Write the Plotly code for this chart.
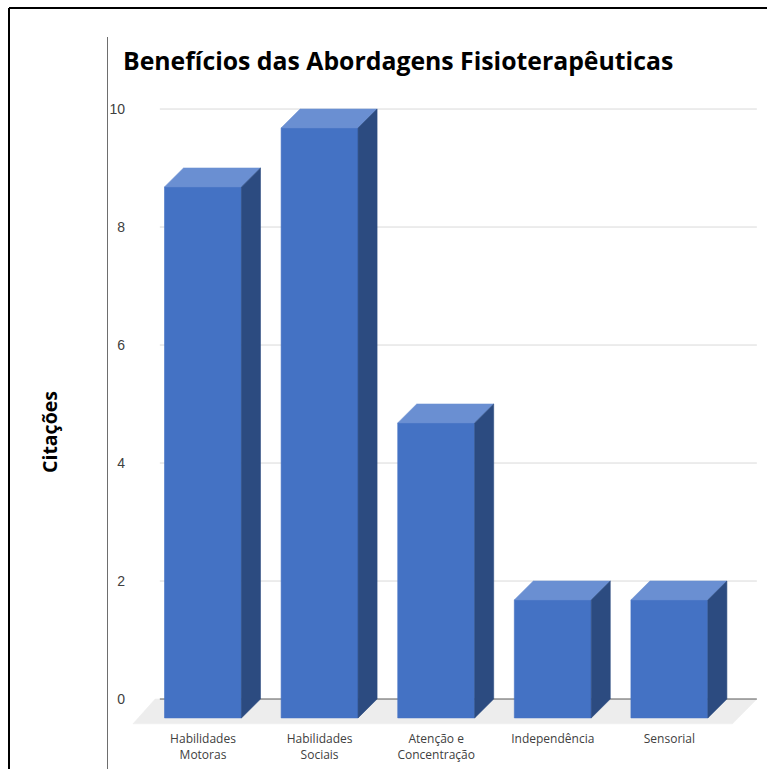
import plotly.graph_objects as go

# ---- data ----
categories = ["Habilidades<br>Motoras", "Habilidades<br>Sociais", "Atenção e<br>Concentração",
              "Independência", "Sensorial"]
values = [9, 10, 5, 2, 2]
y_tick_values = [0, 2, 4, 6, 8, 10]
title_text = "Benefícios das Abordagens Fisioterapêuticas"
y_title = "Citações"

# ---- layout geometry (pixels) ----
WIDTH, HEIGHT = 767, 769
ML, MR, MT, MB = 130, 7, 100, 39
PW = WIDTH - ML - MR
PH = HEIGHT - MT - MB
X_RANGE = [-0.626, 4.777]
Y_RANGE = [-0.525, 10.153]

# 3D look
W = 0.66     # bar width (category units)
DX = 0.163   # depth offset in x
DY = 0.32    # depth offset in y (value units)
FRONT = "#4472C4"
TOP = "#6A8FD2"
SIDE = "#2C4B80"

fig = go.Figure()


def poly(xs, ys, color):
    fig.add_trace(go.Scatter(
        x=xs + [xs[0]], y=ys + [ys[0]], fill="toself", fillcolor=color,
        mode="lines", line=dict(width=0.6, color=color),
        hoverinfo="skip", showlegend=False))


def hline(y, x0, x1, color):
    fig.add_trace(go.Scatter(x=[x0, x1], y=[y, y], mode="lines",
                             line=dict(width=1, color=color),
                             hoverinfo="skip", showlegend=False))


# floor
poly([-0.41, 4.75, 4.54, -0.60], [0, 0, -0.42, -0.42], "#EDEDED")

# gridlines (back wall)
for t in y_tick_values:
    hline(t, -0.37, 4.75, "#595959" if t == 0 else "#D9D9D9")

# bars
for i, v in enumerate(values):
    xl, xr = i - W / 2, i + W / 2
    poly([xl, xr, xr, xl], [-DY, -DY, v - DY, v - DY], FRONT)
    poly([xl, xr, xr + DX, xl + DX], [v - DY, v - DY, v, v], TOP)
    poly([xr, xr + DX, xr + DX, xr], [-DY, 0, v, v - DY], SIDE)


def px_x(p):
    return (p - ML) / PW


def px_y(p):
    return (HEIGHT - MB - p) / PH


shapes = [
    # outer frame (left and top)
    dict(type="line", xref="paper", yref="paper", x0=px_x(9), x1=px_x(9), y0=px_y(8), y1=px_y(769),
         line=dict(color="black", width=2)),
    dict(type="line", xref="paper", yref="paper", x0=px_x(9), x1=px_x(767), y0=px_y(8), y1=px_y(8),
         line=dict(color="black", width=2)),
    # inner vertical line
    dict(type="line", xref="paper", yref="paper", x0=px_x(107.5), x1=px_x(107.5), y0=px_y(37), y1=px_y(769),
         line=dict(color="#6E6E6E", width=1)),
]

fig.update_layout(
    width=WIDTH, height=HEIGHT,
    margin=dict(l=ML, r=MR, t=MT, b=MB),
    paper_bgcolor="white", plot_bgcolor="white",
    shapes=shapes,
    title=dict(text="<b>" + title_text + "</b>", x=123 / WIDTH, xanchor="left",
               y=1 - 61 / HEIGHT, yanchor="middle", xref="container", yref="container",
               font=dict(family="Open Sans", size=24.8, color="#000000")),
    annotations=[dict(text="<b>" + y_title + "</b>", xref="paper", yref="paper",
                      x=px_x(49), y=px_y(432), xanchor="center", yanchor="middle",
                      textangle=-90, showarrow=False,
                      font=dict(family="Open Sans", size=19.5, color="#000000"))],
    xaxis=dict(range=X_RANGE, tickvals=list(range(len(categories))), ticktext=categories,
               showgrid=False, zeroline=False, showline=False, ticks="",
               tickfont=dict(family="Open Sans", size=12, color="#404040"),
               ticklabelstandoff=0, fixedrange=True),
    yaxis=dict(range=Y_RANGE, tickvals=y_tick_values, showgrid=False, zeroline=False,
               showline=False, ticks="", ticklabelstandoff=4,
               tickfont=dict(family="Liberation Sans", size=14, color="#404040"),
               fixedrange=True),
)

fig.write_html("out.html")
